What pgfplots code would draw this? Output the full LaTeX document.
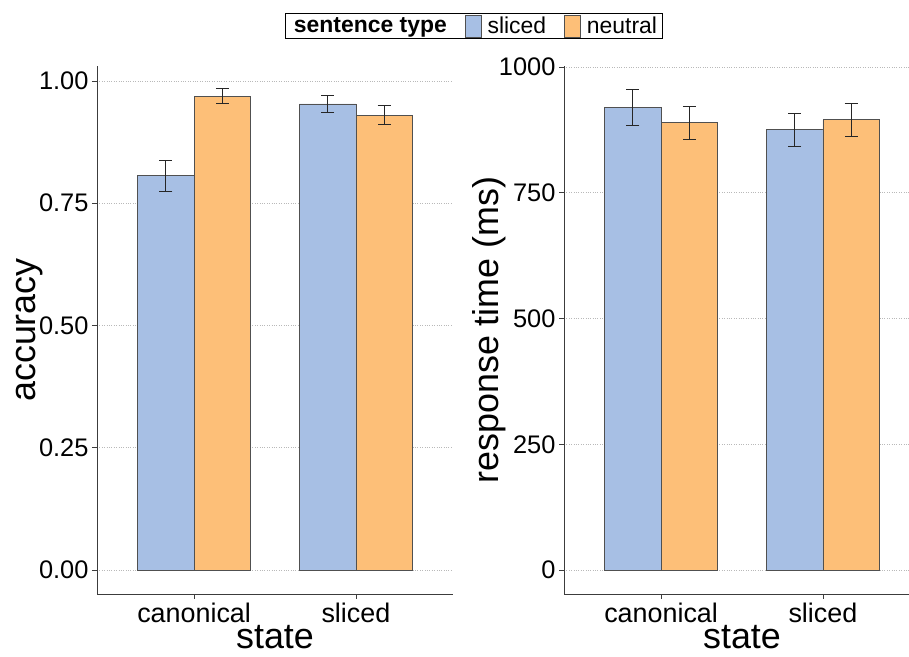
\documentclass[border=0pt]{standalone}
\usepackage{pgfplots}
\pgfplotsset{compat=1.18}
\usepackage{fontspec}
\setmainfont{Liberation Sans}
\definecolor{cblue}{RGB}{167,191,228}
\definecolor{corange}{RGB}{253,191,120}
\definecolor{axgray}{RGB}{60,60,60}
\pgfplotsset{
  myaxis/.style={
    scale only axis,
    width=356bp, height=528bp,
    xmin=0.4, xmax=2.6,
    axis x line*=bottom, axis y line*=left,
    axis line style={axgray, line width=0.8bp},
    xtick={1,2}, xticklabels={canonical,sliced},
    major tick length=5bp,
    tick style={axgray, line width=0.8bp},
    tick align=outside,
    ymajorgrids, grid style={gray!55, dotted, line width=0.8bp},
    /pgf/number format/assume math mode=true,
    yticklabel style={font=\fontsize{25.5}{27}\selectfont, text=black},
    xticklabel style={font=\fontsize{27}{29}\selectfont, text=black},
    label style={font=\fontsize{36}{38}\selectfont},
    xlabel={state},
    xlabel style={inner ysep=1bp, yshift=1bp},
    ybar=0pt, bar width=0.35,
    every axis plot/.append style={draw=axgray!90, line width=0.8bp},
    error bars/y dir=both, error bars/y explicit,
    error bars/error bar style={black!85, line width=0.9bp},
    error bars/error mark options={rotate=90, mark size=6.5bp, black!85, line width=0.9bp},
  }
}
\begin{document}
\begin{tikzpicture}
\useasboundingbox (0,0) rectangle (909bp,657bp);
\begin{axis}[myaxis,
  at={(97bp,63bp)}, anchor=south west,
  ymin=-0.0491, ymax=1.0307,
  ytick={0,0.25,0.5,0.75,1},
  yticklabel style={/pgf/number format/fixed, /pgf/number format/zerofill, /pgf/number format/precision=2},
  ylabel={accuracy},
  ylabel style={yshift=-11bp},
  legend columns=3,
  legend style={at={(1.0576,1.0758)}, anchor=center, draw=black, line width=0.8bp,
    font=\fontsize{23}{25}\selectfont, inner xsep=3bp, inner ysep=1bp,
    /tikz/every odd column/.append style={column sep=4bp},
    /tikz/every even column/.append style={column sep=16bp}},
  legend image code/.code={\draw[#1, line width=0.8bp] (0bp,-11bp) rectangle (16bp,11bp);},
]
\addlegendimage{empty legend}
\addlegendentry{\textbf{sentence type}}
\addplot[fill=cblue] coordinates {(1,0.806) +- (0,0.032) (2,0.953) +- (0,0.017)};
\addlegendentry{sliced}
\addplot[fill=corange] coordinates {(1,0.969) +- (0,0.015) (2,0.930) +- (0,0.019)};
\addlegendentry{neutral}
\end{axis}
\begin{axis}[myaxis,
  at={(564bp,63bp)}, anchor=south west,
  ymin=-47.7, ymax=1002,
  ytick={0,250,500,750,1000},
  yticklabel style={/pgf/number format/1000 sep={}},
  ylabel={response time (ms)},
  ylabel style={yshift=-14bp},
]
\addplot[fill=cblue] coordinates {(1,920) +- (0,36) (2,875) +- (0,32)};
\addplot[fill=corange] coordinates {(1,889) +- (0,33) (2,895) +- (0,33)};
\end{axis}
\end{tikzpicture}
\end{document}
